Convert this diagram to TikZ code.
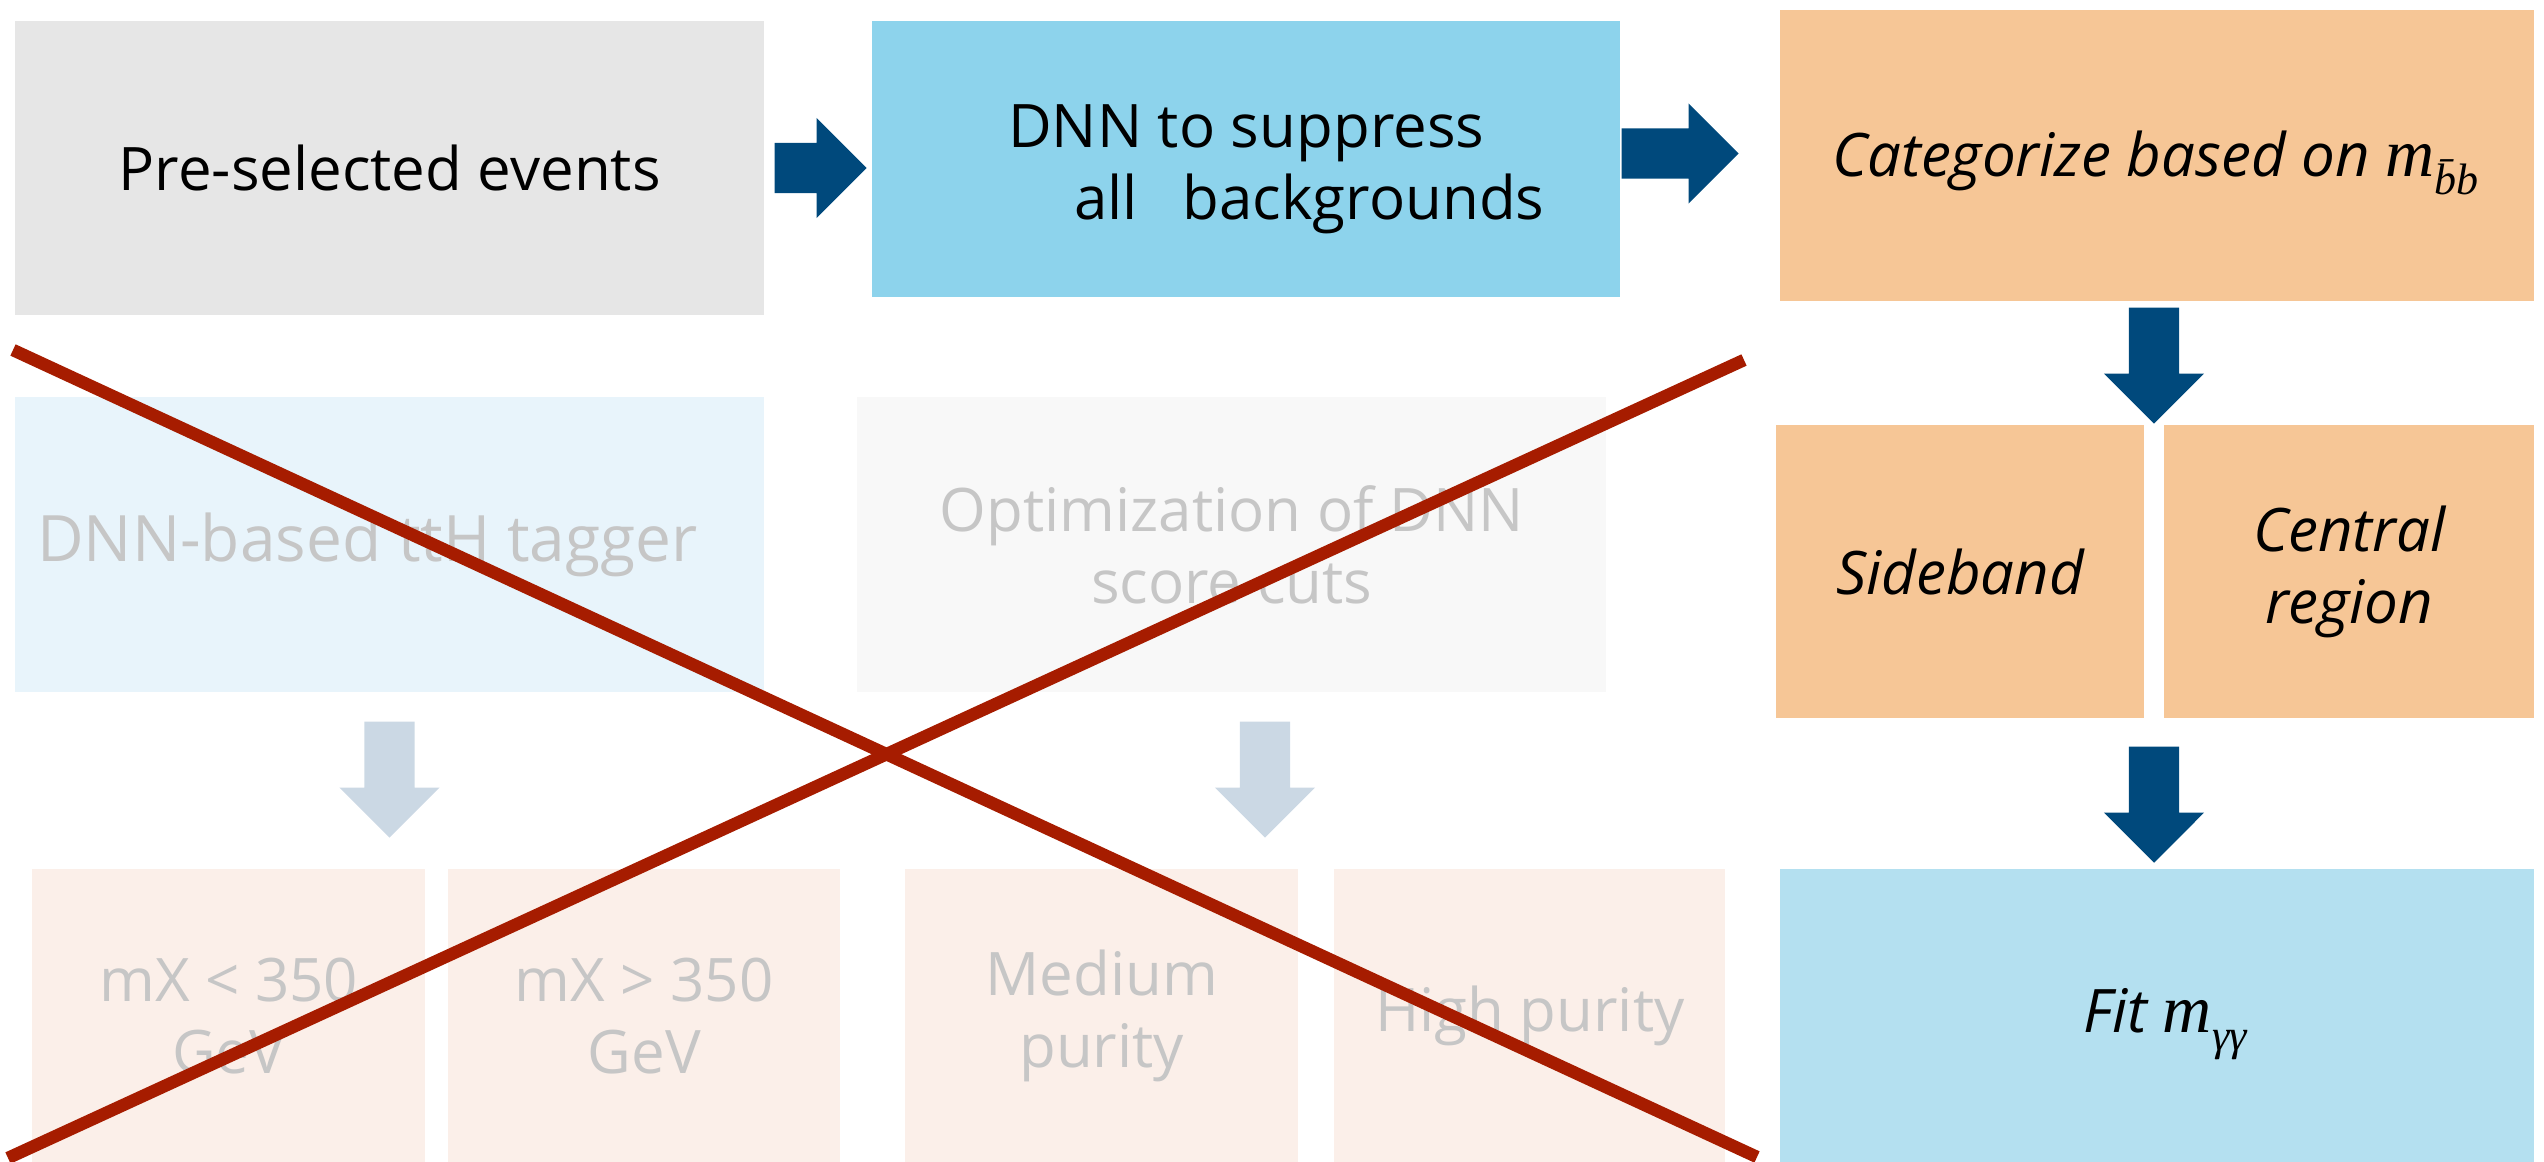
\documentclass[tikz,border=0pt]{standalone}
\usepackage{fontspec}
\setmainfont{Open Sans}
\newfontfamily\varserif{Liberation Serif}
\usetikzlibrary{shapes.arrows,calc}

% italic mass symbol with a lowered subscript, set in text fonts so it scales freely
\newcommand\massvar[1]{{\fontsize{68}{72}\selectfont\varserif\itshape m}%
  \raisebox{-0.3em}{\fontsize{44}{44}\selectfont\varserif\itshape #1}}

\definecolor{greybox}{RGB}{230,230,230}
\definecolor{skybox}{RGB}{141,211,236}
\definecolor{peachbox}{RGB}{246,198,150}
\definecolor{fitbox}{RGB}{180,224,240}
\definecolor{arrowblue}{RGB}{0,73,124}
\definecolor{paleblue}{RGB}{232,244,251}
\definecolor{palegrey}{RGB}{248,248,248}
\definecolor{palepeach}{RGB}{251,239,233}
\definecolor{palearrow}{RGB}{203,216,228}
\definecolor{paletext}{RGB}{198,198,198}
\definecolor{crossred}{RGB}{166,28,0}

\tikzset{
  stepbox/.style={rectangle, draw=none, inner sep=0pt, anchor=north west, align=center,
    font=\fontsize{60}{72}\selectfont},
  mainbox/.style={stepbox, text=black},
  fadedbox/.style={stepbox, text=paletext},
  boxtext/.style={inner sep=0pt, align=center, font=\fontsize{60}{72}\selectfont},
  blockarrow/.style={single arrow, draw=none, inner sep=25pt, anchor=tip,
    single arrow head extend=25pt, single arrow tip angle=90},
  rightarrow/.style={blockarrow, fill=arrowblue},
  downarrow/.style={blockarrow, shape border rotate=270, fill=arrowblue},
  fadedarrow/.style={blockarrow, shape border rotate=270, fill=palearrow},
  crossline/.style={draw=crossred, line width=12.5pt, line cap=butt},
}

\begin{document}
\begin{tikzpicture}[x=1pt,y=-1pt]
  \useasboundingbox (0,0) rectangle (2544,1162);

  % main chain
  \node[mainbox, fill=greybox, minimum width=749pt, minimum height=294pt] (pre) at (15,21)
    {Pre-selected events};
  \node[mainbox, fill=skybox, minimum width=748pt, minimum height=276pt] (dnn) at (872,21) {};
  \node[boxtext] (dnntext) at ($(dnn.center)+(0,10)$)
    {DNN to suppress\\\hspace*{2.1em}all\hspace{0.75em}backgrounds};
  \node[mainbox, fill=peachbox, minimum width=754pt, minimum height=291pt] (cat) at (1780,10) {};
  \node[boxtext, font=\fontsize{60}{72}\selectfont\itshape] (cattext) at ($(cat.center)+(-2,7)$)
    {Categorize based on \massvar{\={b}b}};
  \node[mainbox, fill=peachbox, minimum width=368pt, minimum height=293pt] (side) at (1776,425)
    {\itshape Sideband};
  \node[mainbox, fill=peachbox, minimum width=370pt, minimum height=293pt] (central) at (2164,425)
    {\itshape Central\\\itshape region};
  \node[mainbox, fill=fitbox, minimum width=754pt, minimum height=293pt] (fit) at (1780,869) {};
  \node[boxtext, font=\fontsize{60}{72}\selectfont\itshape] (fittext) at ($(fit.center)+(8,8)$)
    {Fit \massvar{γγ}};

  % arrows of the main chain
  \node[rightarrow, minimum height=92pt] (a1) at (867,168) {};
  \node[rightarrow, minimum height=117pt] (a2) at (1739,153.5) {};
  \node[downarrow, minimum height=116pt] (a3) at (2154,424) {};
  \node[downarrow, minimum height=116pt] (a4) at (2154,863) {};

  % discarded branch
  \node[fadedbox, fill=paleblue, minimum width=749pt, minimum height=295pt,
        font=\fontsize{64}{76}\selectfont] (tagger) at (15,397)
    {DNN-based ttH tagger\hspace*{0.7em}};
  \node[fadedbox, fill=palegrey, minimum width=749pt, minimum height=295pt] (optim) at (857,397)
    {Optimization of DNN\\score cuts};
  \node[fadedarrow, minimum height=116pt] (fa1) at (389.5,838) {};
  \node[fadedarrow, minimum height=116pt] (fa2) at (1265,838) {};
  \node[fadedbox, fill=palepeach, minimum width=393pt, minimum height=293pt] (low) at (32,869)
    {mX < 350\\GeV};
  \node[fadedbox, fill=palepeach, minimum width=392pt, minimum height=293pt] (high) at (448,869)
    {mX > 350\\GeV};
  \node[fadedbox, fill=palepeach, minimum width=393pt, minimum height=293pt] (medium) at (905,869)
    {Medium\\purity};
  \node[fadedbox, fill=palepeach, minimum width=391pt, minimum height=293pt] (hipur) at (1334,869)
    {High purity};

  % crossing out
  \coordinate (xa) at (13,350);
  \coordinate (xb) at (1757,1157);
  \coordinate (xc) at (8,1158);
  \coordinate (xd) at (1744,360);
  \draw[crossline] (xa) -- (xb);
  \draw[crossline] (xc) -- (xd);
\end{tikzpicture}
\end{document}
